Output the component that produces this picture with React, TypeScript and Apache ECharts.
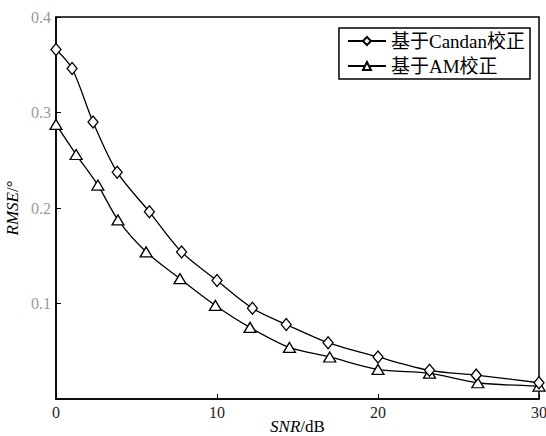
import React, { useEffect, useRef } from "react";
import * as echarts from "echarts";

const candanX = [0, 1, 2.3, 3.8, 5.8, 7.8, 10, 12.2, 14.3, 16.9, 20, 23.2, 26.1, 30];
const candanY = [0.366, 0.346, 0.29, 0.2375, 0.196, 0.154, 0.124, 0.095, 0.078, 0.059, 0.044, 0.03, 0.025, 0.017];
const amX = [0, 1.25, 2.6, 3.85, 5.6, 7.7, 9.9, 12.05, 14.5, 17, 20, 23.2, 26.2, 30];
const amY = [0.2875, 0.256, 0.224, 0.1875, 0.154, 0.126, 0.098, 0.075, 0.054, 0.044, 0.031, 0.027, 0.017, 0.0135];
const xTicks = [0, 10, 20, 30];
const yTicks = [0.1, 0.2, 0.3, 0.4];
const seriesNames = ["基于Candan校正", "基于AM校正"];

const FONT = "'Liberation Serif', 'Noto Sans CJK SC', serif";

export default function App() {
  const ref = useRef<HTMLDivElement>(null);
  useEffect(() => {
    if (!ref.current) return;
    const chart = echarts.init(ref.current, undefined, { renderer: "svg" });
    const pair = (xs: number[], ys: number[]) => xs.map((x, i) => [x, ys[i]]);
    chart.setOption({
      animation: false,
      backgroundColor: "#fff",
      textStyle: { fontFamily: FONT, color: "#000" },
      grid: {
        left: 56,
        right: 7,
        top: 17,
        bottom: 37,
        show: true,
        borderColor: "#000",
        borderWidth: 1.5,
        outerBoundsMode: "none",
        containLabel: false,
      },
      legend: {
        right: 16,
        top: 28,
        orient: "vertical",
        data: seriesNames,
        borderColor: "#000",
        borderWidth: 1.5,
        padding: [2, 5, 2, 8],
        itemGap: 3,
        itemWidth: 38,
        itemHeight: 10,
        textStyle: { fontFamily: FONT, fontSize: 19, lineHeight: 22, color: "#000", padding: [0, 0, 0, 0] },
      },
      xAxis: {
        type: "value",
        min: 0,
        max: 30,
        interval: 10,
        name: "{i|SNR}/dB",
        nameLocation: "middle",
        nameGap: 19,
        nameMoveOverlap: false,
        nameTextStyle: {
          fontFamily: FONT,
          fontSize: 17,
          color: "#000",
          rich: { i: { fontStyle: "italic", fontFamily: FONT, fontSize: 17, color: "#000" } },
        },
        axisLine: { lineStyle: { color: "#000", width: 1.5 } },
        axisTick: { inside: true, length: 5, lineStyle: { color: "#000" } },
        axisLabel: { fontFamily: FONT, fontSize: 16, color: "#222", margin: 5, formatter: (v: number) => (xTicks.includes(v) ? String(v) : "") },
        splitLine: { show: false },
      },
      yAxis: {
        type: "value",
        min: 0,
        max: 0.4,
        interval: 0.1,
        name: "{i|RMSE}/°",
        nameLocation: "middle",
        nameGap: 35,
        nameMoveOverlap: false,
        nameTextStyle: {
          fontFamily: FONT,
          fontSize: 17,
          color: "#000",
          rich: { i: { fontStyle: "italic", fontFamily: FONT, fontSize: 17, color: "#000" } },
        },
        axisLine: { lineStyle: { color: "#000", width: 1.5 } },
        axisTick: { inside: true, length: 5, lineStyle: { color: "#000" } },
        axisLabel: {
          fontFamily: FONT,
          fontSize: 16,
          color: "#999",
          margin: 5,
          formatter: (v: number) => (yTicks.some((t) => Math.abs(t - v) < 1e-9) ? String(Math.round(v * 10) / 10) : ""),
        },
        splitLine: { show: false },
      },
      series: [
        {
          name: seriesNames[0],
          type: "line",
          data: pair(candanX, candanY),
          smooth: 0.3,
          symbol: "diamond",
          symbolSize: [10, 12],
          itemStyle: { color: "#fff", borderColor: "#000", borderWidth: 1.3 },
          lineStyle: { color: "#000", width: 1.3 },
          z: 3,
        },
        {
          name: seriesNames[1],
          type: "line",
          data: pair(amX, amY),
          smooth: 0.3,
          symbol: "triangle",
          symbolSize: [12, 10],
          itemStyle: { color: "#fff", borderColor: "#000", borderWidth: 1.3 },
          lineStyle: { color: "#000", width: 1.3 },
          z: 2,
        },
      ],
    });
    return () => chart.dispose();
  }, []);
  return <div ref={ref} style={{ width: 546, height: 436, position: "absolute", left: 0, top: 0 }} />;
}
